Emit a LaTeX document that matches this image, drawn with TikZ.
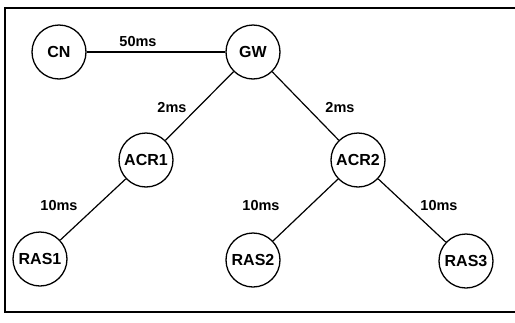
\documentclass[tikz,border=0pt]{standalone}
\usepackage{fontspec}
\setmainfont{Liberation Sans}
\tikzset{
  host/.style={circle, draw, line width=1.3pt, minimum size=54pt, inner sep=0pt, font=\fontsize{16}{18}\selectfont\bfseries},
  delay/.style={inner sep=1pt, font=\fontsize{14.5}{16}\selectfont\bfseries},
  link/.style={line width=1.2pt}
}
\begin{document}
\begin{tikzpicture}[x=1pt, y=-1pt]
			\useasboundingbox (0,0) rectangle (515,322);
			\draw[line width=1.2pt] (5,8) rectangle (518,312);
			
			\node[host] (cn) at (59,52) {CN};
			\node[host] (gw) at (253,52) {GW};
			
			\node[host] (acr1) at (146,160) {ACR1};
			\node[host] (acr2) at (358,160) {ACR2};
			
			\node[host] (ras1) at (40,259) {RAS1};
			\node[host] (ras2) at (253,260) {RAS2};
			\node[host] (ras3) at (466,261) {RAS3};
			
			\node[delay] (d1) at (138,42) {50ms};
			\node[delay] (d2) at (172,108) {2ms};
			\node[delay] (d3) at (340,108) {2ms};
			\node[delay] (d4) at (59,206) {10ms};
			\node[delay] (d5) at (261,206) {10ms};
			\node[delay] (d6) at (439,206) {10ms};
			
			\draw[link] (cn) -- (gw);
			\draw[link] (gw) -- (acr1) -- (ras1);
			\draw[link] (gw) -- (acr2) -- (ras2);
			\draw[link] (acr2) -- (ras3);
		\end{tikzpicture}
\end{document}
